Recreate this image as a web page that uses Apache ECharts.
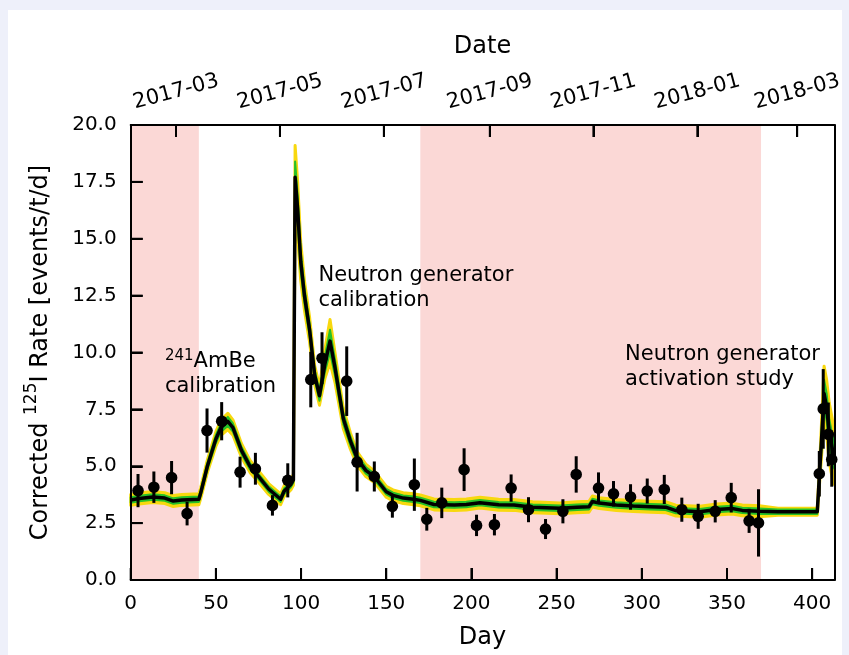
<!DOCTYPE html>
<html>
<head>
<meta charset="utf-8">
<script src="https://cdn.jsdelivr.net/npm/echarts@6/dist/echarts.min.js"></script>
<style>
html, body { margin: 0; padding: 0; background: #eef0fa; }
.panel { position: absolute; left: 8px; top: 10px; width: 834px; height: 645px; background: #fff; }
#chart { position: absolute; left: 0; top: 0; width: 849px; height: 655px; }
</style>
</head>
<body>
<div class="panel"></div>
<div id="chart"></div>
<script>
// measured points with error bars
var pointDays = [4.3, 13.6, 24, 33.1, 44.8, 53.4, 64.2, 73.2, 83.2, 92.2, 105.7, 112.3, 126.8, 132.9, 143, 153.6,
  166.5, 173.8, 182.6, 195.7, 203, 213.5, 223.3, 233.5, 243.5, 253.7, 261.5, 274.6, 283.4, 293.4, 303.2, 313.2,
  323.5, 333.1, 343.1, 352.5, 363, 368.5, 404.2, 406.5, 409.5, 411.5];
var pointRates = [3.93, 4.08, 4.5, 2.92, 6.57, 6.98, 4.74, 4.89, 3.28, 4.38, 8.81, 9.75, 8.74, 5.18, 4.55, 3.24,
  4.19, 2.67, 3.39, 4.85, 2.4, 2.43, 4.04, 3.09, 2.24, 3.02, 4.64, 4.04, 3.79, 3.65, 3.91, 3.98,
  3.09, 2.8, 3.02, 3.62, 2.6, 2.51, 4.67, 7.52, 6.4, 5.3];
var pointErrs = [0.73, 0.69, 0.73, 0.52, 0.97, 0.84, 0.68, 0.7, 0.45, 0.75, 1.22, 1.14, 1.53, 1.29, 0.66, 0.5,
  1.15, 0.5, 0.67, 0.94, 0.47, 0.47, 0.6, 0.55, 0.44, 0.53, 0.8, 0.69, 0.56, 0.56, 0.55, 0.64,
  0.53, 0.55, 0.49, 0.65, 0.53, 1.48, 1.0, 1.75, 1.4, 1.2];

// fitted model curve and its two bands (half widths)
var modelDays = [0, 5, 13, 20, 25, 30, 40, 41, 45, 50, 53, 57, 60, 65, 70, 75, 81, 88, 90, 94, 95.5, 96.5, 98, 99.8,
  102, 105, 108, 110.8, 114, 117, 120, 124.8, 129, 133, 138, 143, 150, 154, 160, 166, 170, 178, 190, 197, 205,
  216, 225, 236, 252, 262, 269, 271, 275, 285, 295, 305, 314, 320, 334, 344, 353, 359, 369, 380, 390, 403, 405,
  407, 408.5, 410, 412, 413];
var modelRate = [3.52, 3.58, 3.65, 3.6, 3.47, 3.52, 3.55, 3.8, 5.0, 6.2, 6.7, 6.97, 6.7, 5.7, 5.0, 4.55, 4.0, 3.55, 3.9, 4.2, 4.4, 17.7, 16.3, 14.0,
  12.5, 11.0, 9.0, 8.1, 9.5, 10.5, 9.3, 7.1, 6.1, 5.33, 4.82, 4.54, 3.88, 3.72, 3.6, 3.55, 3.5, 3.32, 3.3, 3.32, 3.4,
  3.31, 3.3, 3.2, 3.15, 3.2, 3.22, 3.45, 3.38, 3.3, 3.25, 3.22, 3.2, 3.05, 3.0, 3.1, 3.14, 3.06, 3.02, 3.0, 3.0, 3.0, 5.5,
  8.2, 7.6, 6.5, 5.7, 5.5];
var greenHalf = [0.12, 0.12, 0.12, 0.12, 0.12, 0.12, 0.12, 0.12, 0.15, 0.18, 0.18, 0.2, 0.18, 0.16, 0.14, 0.12, 0.12, 0.12, 0.12, 0.12, 0.12, 0.7, 0.6, 0.45,
  0.35, 0.28, 0.22, 0.22, 0.35, 0.5, 0.35, 0.25, 0.2, 0.17, 0.15, 0.13, 0.12, 0.12, 0.12, 0.12, 0.12, 0.12, 0.12, 0.12, 0.12,
  0.12, 0.12, 0.12, 0.12, 0.12, 0.12, 0.12, 0.12, 0.12, 0.12, 0.12, 0.12, 0.12, 0.12, 0.12, 0.12, 0.12, 0.12, 0.1, 0.1, 0.1, 0.3,
  0.6, 0.6, 0.6, 0.6, 0.6];
var yellowHalf = [0.24, 0.24, 0.24, 0.24, 0.24, 0.24, 0.24, 0.24, 0.28, 0.32, 0.34, 0.36, 0.34, 0.3, 0.27, 0.25, 0.24, 0.24, 0.24, 0.24, 0.24, 1.4, 1.2, 0.85,
  0.65, 0.55, 0.42, 0.42, 0.65, 0.95, 0.65, 0.45, 0.36, 0.3, 0.27, 0.25, 0.24, 0.24, 0.24, 0.24, 0.24, 0.24, 0.24, 0.24, 0.24,
  0.24, 0.24, 0.24, 0.24, 0.24, 0.24, 0.24, 0.24, 0.24, 0.24, 0.24, 0.24, 0.24, 0.24, 0.24, 0.24, 0.24, 0.24, 0.15, 0.15, 0.15, 0.6,
  1.2, 1.2, 1.3, 1.3, 1.3];

// shaded periods
var shadeRanges = [[0, 40], [170, 370]];

// tick labels
var dayTicks = [0, 50, 100, 150, 200, 250, 300, 350, 400];
var rateTicks = [0, 2.5, 5, 7.5, 10, 12.5, 15, 17.5, 20];
var dateDays = [26.6, 87.6, 148.6, 210.8, 271.6, 332.6, 391.2];
var dateLabels = ['2017-03', '2017-05', '2017-07', '2017-09', '2017-11', '2018-01', '2018-03'];

// annotations, anchored at the top-left of each text block
var noteDays = [20.1, 110.2, 290.2];
var noteRates = [10.15, 13.95, 10.45];
var noteTexts = [
  '{s|241}{n|AmBe}\n{n|calibration}',
  '{n|Neutron generator}\n{n|calibration}',
  '{n|Neutron generator}\n{n|activation study}'
];

var FONT = 'DejaVu Sans';
var YELLOW = '#f8d80e';
var GREEN = '#27c127';
var TICK_LEN = 12;

// band drawn as one polygon: upper edge forward, lower edge back
function bandSeries(half, color, z, edge) {
  return {
    type: 'custom', z: z, silent: true, data: [[0, 0]],
    renderItem: function (params, api) {
      var pts = [];
      for (var i = 0; i < modelDays.length; i++) pts.push(api.coord([modelDays[i], modelRate[i] + half[i]]));
      for (var j = modelDays.length - 1; j >= 0; j--) pts.push(api.coord([modelDays[j], modelRate[j] - half[j]]));
      return {
        type: 'polygon', shape: { points: pts },
        style: { fill: color, stroke: color, lineWidth: edge, lineJoin: 'round' }
      };
    }
  };
}

function axisLine() {
  return { show: true, onZero: false, lineStyle: { color: '#000', width: 2 } };
}
function axisTick(values) {
  var t = { show: true, inside: true, length: TICK_LEN, lineStyle: { color: '#000', width: 2 } };
  if (values) t.customValues = values;
  return t;
}

// inward tick marks, placed through the axes' own scales
function tickLine(a, b) {
  return { type: 'line', shape: { x1: a[0], y1: a[1], x2: b[0], y2: b[1] }, style: { stroke: '#000', lineWidth: 2 } };
}

var noteRich = {
  n: { fontSize: 21, fontFamily: FONT, color: '#000', lineHeight: 25 },
  s: { fontSize: 15, fontFamily: FONT, color: '#000', lineHeight: 25, verticalAlign: 'top', padding: [0, 0, 8, 0] }
};

var option = {
  animation: false,
  grid: { left: 130.7, right: 14.7, top: 125, bottom: 73.5 },
  xAxis: [
    {
      type: 'value', min: 0, max: 413, position: 'bottom', z: 8,
      name: 'Day', nameLocation: 'middle', nameGap: 46,
      nameTextStyle: { fontSize: 24, color: '#000', fontFamily: FONT },
      axisLine: axisLine(),
      axisTick: axisTick(dayTicks),
      axisLabel: { customValues: dayTicks, fontSize: 20, color: '#000', margin: 14, fontFamily: FONT },
      splitLine: { show: false }
    },
    {
      type: 'value', min: 0, max: 413, position: 'top', z: 8,
      name: 'Date', nameLocation: 'middle', nameGap: 66,
      nameTextStyle: { fontSize: 24, color: '#000', fontFamily: FONT },
      axisLine: axisLine(),
      axisTick: axisTick(dateDays),
      axisLabel: {
        customValues: dateDays, fontSize: 21, color: '#000', fontFamily: FONT,
        rotate: -15, align: 'center', verticalAlign: 'middle', margin: 33,
        formatter: function (v) {
          var k = dateDays.indexOf(v);
          return k < 0 ? '' : dateLabels[k];
        }
      },
      splitLine: { show: false }
    }
  ],
  yAxis: [
    {
      type: 'value', min: 0, max: 20, interval: 2.5, position: 'left', z: 8,
      name: '{n|Corrected }{s|125}{n|I Rate [events/t/d]}', nameLocation: 'middle', nameGap: 78,
      nameTextStyle: {
        fontFamily: FONT, color: '#000',
        rich: {
          n: { fontSize: 24, fontFamily: FONT, color: '#000', lineHeight: 30, verticalAlign: 'bottom' },
          s: { fontSize: 17, fontFamily: FONT, color: '#000', lineHeight: 30, verticalAlign: 'top', padding: [0, 0, 10, 0] }
        }
      },
      axisLine: axisLine(),
      axisTick: axisTick(),
      axisLabel: {
        fontSize: 20, color: '#000', margin: 14, fontFamily: FONT,
        formatter: function (v) { return v.toFixed(1); }
      },
      splitLine: { show: false }
    },
    {
      type: 'value', min: 0, max: 20, interval: 2.5, position: 'right', z: 8,
      axisLine: axisLine(),
      axisTick: { show: false }, axisLabel: { show: false }, splitLine: { show: false }
    }
  ],
  series: [
    {
      name: 'shade', type: 'line', data: [], z: 0, silent: true,
      markArea: {
        silent: true,
        itemStyle: { color: '#fbd8d6' },
        data: shadeRanges.map(function (r) { return [{ xAxis: r[0] }, { xAxis: r[1] }]; })
      }
    },
    bandSeries(yellowHalf, YELLOW, 2, 3),
    bandSeries(greenHalf, GREEN, 3, 2),
    {
      name: 'model', type: 'line', symbol: 'none', silent: true, z: 4,
      lineStyle: { color: '#000', width: 3.5, join: 'round' },
      data: modelDays.map(function (d, i) { return [d, modelRate[i]]; })
    },
    {
      name: 'data', type: 'custom', z: 5,
      data: pointDays.map(function (d, i) { return [d, pointRates[i], pointErrs[i]]; }),
      renderItem: function (params, api) {
        var top = api.coord([api.value(0), api.value(1) + api.value(2)]);
        var bot = api.coord([api.value(0), api.value(1) - api.value(2)]);
        var c = api.coord([api.value(0), api.value(1)]);
        return {
          type: 'group',
          children: [
            { type: 'line', shape: { x1: top[0], y1: top[1], x2: bot[0], y2: bot[1] }, style: { stroke: '#000', lineWidth: 3 } },
            { type: 'circle', shape: { cx: c[0], cy: c[1], r: 5.8 }, style: { fill: '#000' } }
          ]
        };
      }
    },
    {
      // tick marks drawn on top of the shading and bands
      name: 'ticks', type: 'custom', z: 9, silent: true, data: [[0, 0]],
      renderItem: function (params, api) {
        var kids = [];
        dayTicks.forEach(function (d) {
          var p = api.coord([d, 0]);
          kids.push(tickLine(p, [p[0], p[1] - TICK_LEN]));
        });
        dateDays.forEach(function (d) {
          var p = api.coord([d, 20]);
          kids.push(tickLine(p, [p[0], p[1] + TICK_LEN]));
        });
        rateTicks.forEach(function (r) {
          var p = api.coord([0, r]);
          kids.push(tickLine(p, [p[0] + TICK_LEN, p[1]]));
        });
        return { type: 'group', children: kids };
      }
    },
    {
      // annotation texts placed in data coordinates
      name: 'notes', type: 'custom', z: 9, silent: true,
      data: noteDays.map(function (d, i) { return [d, noteRates[i], i]; }),
      renderItem: function (params, api) {
        var p = api.coord([api.value(0), api.value(1)]);
        return {
          type: 'text', x: p[0], y: p[1],
          style: { text: noteTexts[api.value(2)], rich: noteRich, align: 'left', verticalAlign: 'top', fill: '#000' }
        };
      }
    }
  ]
};

var myChart = echarts.init(document.getElementById('chart'));
myChart.setOption(option);
</script>
</body>
</html>
